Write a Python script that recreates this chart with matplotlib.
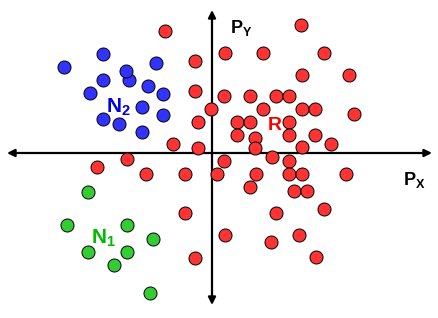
import matplotlib.pyplot as plt

plt.rcParams['mathtext.fontset'] = 'custom'
plt.rcParams['mathtext.bf'] = 'Liberation Sans:bold'
plt.rcParams['mathtext.rm'] = 'Liberation Sans'

# point positions (Px, Py), origin at the axes crossing
red_x = [-47, -17, -17, -1, -14, -39, -14, 89, 13, 51, 112, 90, 137, 12, 38, 64, 77,
         51, 90, 103, 142, 25, 38, 77, 25, 43, 43, 77, 103, 119, 90, 12, 60, 77,
         5, 44, 77, 90, 134, 38, 82, 95, 112, 64, 13, 87, 59, 104,
         -115, -85, -66, -27, -27, -17]
red_y = [122, 92, 62, 44, 31, 9, 5, 128, 100, 100, 100, 78, 78, 57, 57, 57, 57,
         44, 44, 44, 39, 31, 31, 31, 18, 15, 5, 18, 18, 9, 6, -8, -4, -8,
         -21, -21, -21, -21, -21, -34, -38, -38, -56, -60, -82, -82, -89, -104,
         -14, -6, -21, -21, -60, -105]

blue_x = [-148, -109, -83, -86, -109, -56, -122, -64, -49, -70, -49, -109, -93, -70]
blue_y = [86, 99, 73, 82, 73, 90, 60, 67, 59, 46, 38, 34, 29, 21]

green_x = [-124, -145, -85, -59, -124, -85, -98, -62]
green_y = [-39, -72, -72, -86, -99, -99, -112, -140]

fig = plt.figure(figsize=(4.39, 3.18), dpi=100)
ax = fig.add_axes([0, 0, 1, 1])
ax.set_xlim(-212, 227)
ax.set_ylim(-165, 153)
ax.axis('off')

# axes with arrows
arrow = dict(arrowstyle='<|-|>', lw=1.6, color='black', mutation_scale=11,
             shrinkA=0, shrinkB=0)
ax.annotate('', xy=(220, 0), xytext=(-205, 0), arrowprops=arrow)
ax.annotate('', xy=(0, 143), xytext=(0, -152), arrowprops=arrow)

ms = 88
ax.scatter(red_x, red_y, s=ms, c='#FF3333', edgecolors='black', linewidths=0.7, zorder=3)
ax.scatter(blue_x, blue_y, s=ms, c='#3333FF', edgecolors='black', linewidths=0.7, zorder=3)
ax.scatter(green_x, green_y, s=ms, c='#33CC33', edgecolors='black', linewidths=0.7, zorder=3)

ax.text(-106, 46, r'$\mathbf{N_2}$', color='#0000DD', fontsize=15, ha='left', va='center', zorder=4)
ax.text(-121, -85, r'$\mathbf{N_1}$', color='#00BB00', fontsize=15, ha='left', va='center', zorder=4)
ax.text(55, 28, r'$\mathbf{R}$', color='#FF0000', fontsize=14, ha='left', va='center', zorder=4)
ax.text(18, 125, r'$\mathbf{P_Y}$', color='black', fontsize=13, ha='left', va='center')
ax.text(191, -27, r'$\mathbf{P_X}$', color='black', fontsize=13, ha='left', va='center')

plt.savefig('out.png', dpi=100)
